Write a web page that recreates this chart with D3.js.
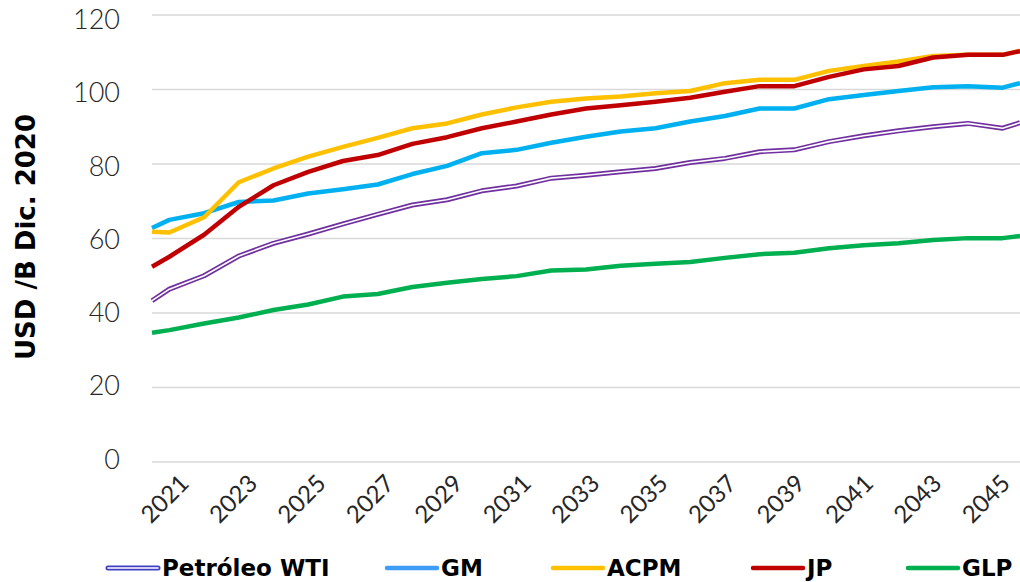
<!DOCTYPE html>
<html>
<head>
<meta charset="utf-8">
<script src="https://cdn.jsdelivr.net/npm/d3@7"></script>
<style>
  body { margin: 0; background: #fff; }
  svg { display: block; font-family: Lato, 'Open Sans', sans-serif; }
</style>
</head>
<body>
<div id="chart"></div>
<script>
// picture is cut at both sides: first and last entries are the half-year edges
const years = [2020.5, 2021, 2022, 2023, 2024, 2025, 2026, 2027, 2028, 2029, 2030, 2031, 2032,
  2033, 2034, 2035, 2036, 2037, 2038, 2039, 2040, 2041, 2042, 2043, 2044, 2045, 2045.5];

const wti = [43.3, 46.4, 50.0, 55.3, 58.7, 61.2, 63.9, 66.5, 69.0, 70.4, 72.8, 74.1, 76.2,
  77.0, 77.9, 78.8, 80.4, 81.5, 83.3, 83.8, 86.0, 87.6, 88.9, 90.0, 90.9, 89.6, 91.1];
const gm = [62.8, 65.0, 66.8, 69.8, 70.2, 72.1, 73.2, 74.5, 77.3, 79.5, 82.9, 83.8, 85.7,
  87.3, 88.7, 89.6, 91.4, 92.9, 94.9, 94.9, 97.4, 98.5, 99.6, 100.6, 100.9, 100.5, 101.7];
const acpm = [61.8, 61.6, 65.7, 75.1, 78.8, 82.0, 84.6, 87.0, 89.6, 90.9, 93.3, 95.2, 96.7,
  97.6, 98.1, 99.0, 99.6, 101.7, 102.6, 102.6, 105.0, 106.3, 107.5, 109.0, 109.3, 109.3, 110.4];
const jp = [52.4, 55.1, 61.0, 68.5, 74.3, 77.9, 80.8, 82.4, 85.4, 87.2, 89.6, 91.4, 93.3,
  94.9, 95.8, 96.7, 97.8, 99.4, 100.9, 100.9, 103.4, 105.4, 106.3, 108.6, 109.3, 109.3, 110.3];
const glp = [34.7, 35.4, 37.2, 38.8, 40.8, 42.3, 44.4, 45.1, 47.0, 48.1, 49.1, 49.9, 51.4,
  51.7, 52.7, 53.2, 53.7, 54.8, 55.8, 56.2, 57.4, 58.2, 58.7, 59.6, 60.1, 60.1, 60.7];

const yTicks = [0, 20, 40, 60, 80, 100, 120];
const xTickYears = [2021, 2023, 2025, 2027, 2029, 2031, 2033, 2035, 2037, 2039, 2041, 2043, 2045];

const series = [
  {name: 'Petróleo WTI', values: wti, color: '#7030a0', legendColor: '#3f3fc4', double: true},
  {name: 'GM', values: gm, color: '#00b0f0', legendColor: '#3d9cf5'},
  {name: 'ACPM', values: acpm, color: '#ffc000', legendColor: '#ffc000'},
  {name: 'JP', values: jp, color: '#c00000', legendColor: '#c00000'},
  {name: 'GLP', values: glp, color: '#00b050', legendColor: '#00b050'}
];
const legendX = [108, 387, 553, 753, 908];

const width = 1020, height = 582;
const margin = {top: 15, right: 0, bottom: 120, left: 152};

const svg = d3.select('#chart').append('svg').attr('width', width).attr('height', height);

const x = d3.scaleLinear().domain([2020.5, 2045.5]).range([margin.left, width - margin.right]);
const y = d3.scaleLinear().domain([0, 120]).range([height - margin.bottom, margin.top]);
// the tick labels sit on a slightly tighter spacing than the gridlines
const yLabel = d3.scaleLinear().domain([0, 120]).range([y(0) - 3, y(120) + 4.5]);

// gridlines
svg.append('g')
  .selectAll('line')
  .data(yTicks)
  .join('line')
  .attr('x1', margin.left)
  .attr('x2', width)
  .attr('y1', d => y(d))
  .attr('y2', d => y(d))
  .attr('stroke', '#d9d9d9')
  .attr('stroke-width', 1.3);

// y labels
svg.append('g')
  .selectAll('text')
  .data(yTicks)
  .join('text')
  .attr('x', 120)
  .attr('y', d => yLabel(d))
  .attr('dy', '0.36em')
  .attr('text-anchor', 'end')
  .attr('font-size', 27)
  .attr('font-weight', 300)
  .attr('fill', '#262626')
  .text(d => d);

// y title
svg.append('text')
  .attr('transform', `translate(35, 237) rotate(-90)`)
  .attr('text-anchor', 'middle')
  .attr('font-family', "'DejaVu Sans', sans-serif")
  .attr('font-size', 26)
  .attr('font-weight', 700)
  .attr('fill', '#000')
  .text('USD /B Dic. 2020');

// x labels, rotated
const labelX = d3.scaleLinear().domain([2021, 2045]).range([x(2021) + 21, x(2045) + 9]);
svg.append('g')
  .selectAll('text')
  .data(xTickYears)
  .join('text')
  .attr('transform', d => `translate(${labelX(d)}, 485) rotate(-45)`)
  .attr('text-anchor', 'end')
  .attr('font-size', 24)
  .attr('font-weight', 400)
  .attr('fill', '#262626')
  .text(d => d);

// lines
const line = d3.line()
  .x((d, i) => x(years[i]))
  .y(d => y(d));

const lines = svg.append('g').attr('fill', 'none').attr('stroke-linejoin', 'round');
series.forEach(s => {
  lines.append('path')
    .attr('d', line(s.values))
    .attr('stroke', s.color)
    .attr('stroke-width', s.double ? 5 : 4.5);
  if (s.double) {
    lines.append('path')
      .attr('d', line(s.values))
      .attr('stroke', '#fff')
      .attr('stroke-width', 1.6);
  }
});

// legend
const legend = svg.append('g');
series.forEach((s, i) => {
  const lx = legendX[i];
  const g = legend.append('g');
  g.append('line')
    .attr('x1', lx).attr('x2', lx + 50)
    .attr('y1', 568).attr('y2', 568)
    .attr('stroke', s.legendColor)
    .attr('stroke-width', s.double ? 5 : 4.5)
    .attr('stroke-linecap', 'round');
  if (s.double) {
    g.append('line')
      .attr('x1', lx).attr('x2', lx + 50)
      .attr('y1', 568).attr('y2', 568)
      .attr('stroke', '#fff')
      .attr('stroke-width', 1.6)
      .attr('stroke-linecap', 'round');
  }
  g.append('text')
    .attr('x', lx + 54)
    .attr('y', 576)
    .attr('font-family', "'DejaVu Sans', sans-serif")
    .attr('font-size', 23)
    .attr('font-weight', 700)
    .attr('fill', '#000')
    .text(s.name);
});
</script>
</body>
</html>
